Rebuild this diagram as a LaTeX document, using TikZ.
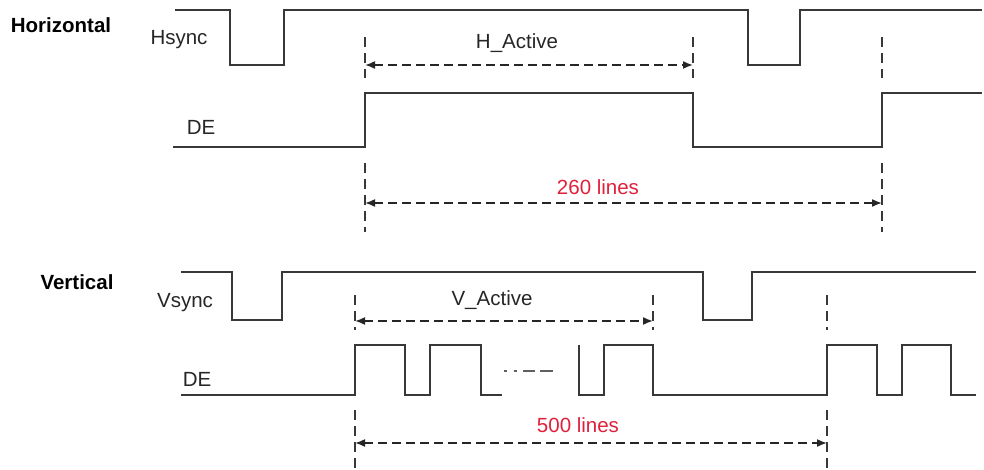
\documentclass[tikz,border=0pt]{standalone}
\usepackage{fontspec}
\setmainfont{Liberation Sans}
\usetikzlibrary{arrows.meta}
\definecolor{wavegray}{HTML}{383838}
\definecolor{linesred}{HTML}{E0203A}
\tikzset{
  wave/.style={draw=wavegray, line width=2pt},
  marker/.style={draw=wavegray, line width=1.8pt, dash pattern=on 10pt off 6pt},
  span/.style={draw=black!85, line width=1.6pt, dash pattern=on 9pt off 5pt,
    {Latex[length=10pt,width=8pt]}-{Latex[length=10pt,width=8pt]}},
  lbl/.style={inner sep=0pt, text=black!85, font=\fontsize{20.5}{24}\selectfont},
  title/.style={lbl, text=black, font=\fontsize{20.5}{24}\selectfont\bfseries},
}
\begin{document}
\begin{tikzpicture}[x=1pt,y=-1pt]
\useasboundingbox (0,0) rectangle (984,470);

% horizontal
\node[title] (horiz) at (61,25) {Horizontal};
\node[lbl] (hsync) at (179,40) {Hsync};
\node[lbl] (hde) at (201,127) {DE};

\draw[wave] (175,10) -- (230,10) -- (230,65) -- (284,65) -- (284,10) -- (748,10)
  -- (748,65) -- (800,65) -- (800,10) -- (982,10);
\draw[wave] (173,147) -- (365,147) -- (365,93) -- (693,93) -- (693,147) -- (882,147)
  -- (882,93) -- (982,93);

\draw[marker] (365,37) -- (365,78);
\draw[marker] (693,37) -- (693,78);
\draw[marker] (882,37) -- (882,78);
\draw[marker] (365,163) -- (365,232);
\draw[marker] (882,163) -- (882,232);

\coordinate (hact1) at (365,65);
\coordinate (hact2) at (693,65);
\draw[span] (hact1) -- (hact2);
\node[lbl] (hactive) at (517,43) {H\_Active};

\coordinate (hlin1) at (365,203);
\coordinate (hlin2) at (882,203);
\draw[span] (hlin1) -- (hlin2);
\node[lbl, text=linesred] (hlines) at (598,187) {260 lines};

% vertical
\node[title] (vert) at (77,282) {Vertical};
\node[lbl] (vsync) at (185,303) {Vsync};
\node[lbl] (vde) at (197,379) {DE};

\draw[wave] (181,272) -- (232,272) -- (232,320) -- (282,320) -- (282,272) -- (703,272)
  -- (703,320) -- (752,320) -- (752,272) -- (976,272);
\draw[wave] (181,395) -- (355,395) -- (355,345) -- (405,345) -- (405,395) -- (430,395)
  -- (430,345) -- (481,345) -- (481,395) -- (502,395);
\draw[wave] (579,345) -- (579,395) -- (604,395) -- (604,345) -- (653,345) -- (653,395)
  -- (827,395) -- (827,345) -- (877,345) -- (877,395) -- (902,395) -- (902,345)
  -- (951,345) -- (951,395) -- (976,395);
\draw[draw=wavegray!80, line width=1.5pt,
  dash pattern=on 3pt off 7pt on 3pt off 6pt on 12pt off 5pt on 13pt off 100pt]
  (504,371) -- (553,371);

\draw[marker] (355,295) -- (355,330);
\draw[marker] (653,295) -- (653,330);
\draw[marker] (827,295) -- (827,330);
\draw[marker] (355,410) -- (355,470);
\draw[marker] (827,410) -- (827,470);

\coordinate (vact1) at (355,321);
\coordinate (vact2) at (653,321);
\draw[span] (vact1) -- (vact2);
\node[lbl] (vactive) at (492,300) {V\_Active};

\coordinate (vlin1) at (355,443);
\coordinate (vlin2) at (827,443);
\draw[span] (vlin1) -- (vlin2);
\node[lbl, text=linesred] (vlines) at (578,425) {500 lines};

\end{tikzpicture}
\end{document}
